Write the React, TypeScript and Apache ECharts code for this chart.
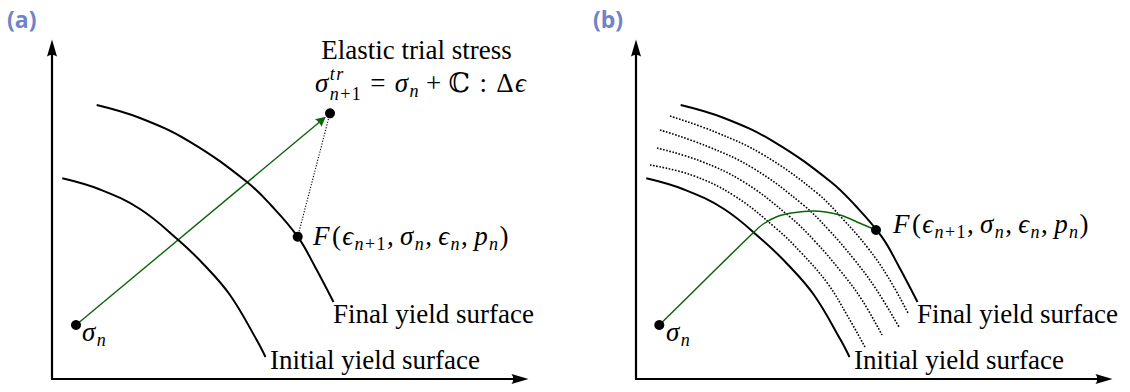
import React, { useEffect, useRef } from "react";
import * as echarts from "echarts";

// Data space: one unit = one pixel, measured from each panel's axis origin.
const X_MAX = 468;
const Y_MAX = 331;

const initialSurface = [[10.3, 200.7], [48, 189.5], [88, 170], [126.3, 139], [152, 114.3], [178, 84], [204.7, 39], [213.5, 22]];
const finalSurface = [[44.7, 274], [88, 261], [138, 237.2], [194.7, 197.3], [220, 172.7], [245.7, 142.3], [263, 112.3], [281.5, 77]];
const intermediate1 = [[14, 214], [56, 203.8], [98, 183.4], [140, 150.7], [165.6, 125.8], [191.5, 95.7], [211, 64], [229, 32]];
const intermediate2 = [[21, 231], [64, 218.1], [108, 196.9], [153.7, 162.3], [179.2, 137.4], [205.1, 107.3], [226, 79], [246, 44]];
const intermediate3 = [[24, 249], [72, 232.4], [118, 210.3], [167.3, 174], [192.8, 149], [218.6, 119], [240, 90], [263, 52]];
const intermediate4 = [[34, 263], [80, 246.7], [128, 223.8], [181, 186], [206.4, 160.5], [231.9, 131], [252, 102], [272, 66]];

const sigmaA = [24, 54];
const trialA = [278, 265.7];
const arrowEndA = [270, 259];
const stateFA = [245.7, 142.3];

const sigmaB = [23.3, 54];
const stateFB = [240, 149];
const returnPathB = [[23.3, 54], [70, 100], [117, 146], [127.3, 155], [140.7, 162.3], [157.3, 166.3], [177.3, 168], [204, 164], [224, 155.7], [240, 149]];

const panelLabels = ["(a)", "(b)"];
const initialLabel = "Initial yield surface";
const finalLabel = "Final yield surface";
const trialLabel = "Elastic trial stress";

const SERIF = "Liberation Serif, DejaVu Serif, serif";
const SANS = "Open Sans, DejaVu Sans, sans-serif";
const M = 27;
const S = 18;
const GREEN = "#0b650b";
const ARROW = "path://M5,0 L10,17 Q5,13.5 0,17 Z";

type P = { t?: string; i?: boolean; s?: number; g?: number; sup?: P[]; sub?: P[] };

function build(ctx: CanvasRenderingContext2D, pieces: P[], x0: number, base: number, out: any[] | null, kern: number): number {
  let x = x0;
  for (const p of pieces) {
    if (p.g) { x += p.g; continue; }
    if (p.sup || p.sub) {
      const both = !!(p.sup && p.sub);
      const e1 = p.sup ? build(ctx, p.sup, x, base - 11.5, out, kern) : x;
      const e2 = p.sub ? build(ctx, p.sub, x, base + (both ? 8 : 5), out, kern) : x;
      x = Math.max(e1, e2);
      continue;
    }
    const size = p.s ?? M;
    ctx.font = `${p.i ? "italic " : ""}${size}px ${SERIF}`;
    const w = ctx.measureText(p.t || "").width;
    if (out) {
      out.push({
        type: "text", x, y: base - 0.3375 * size, silent: true, z: 10,
        style: {
          text: p.t, fontFamily: SERIF, fontSize: size, fontStyle: p.i ? "italic" : "normal", fill: "#000",
          align: "left", verticalAlign: "middle", lineHeight: size < M ? 14 : 22,
        },
      });
    }
    x += w + kern;
  }
  return x;
}

function place(ctx: CanvasRenderingContext2D, pieces: P[], x: number, base: number, out: any[], center = false, kern = 0) {
  let x0 = x;
  if (center) {
    const w = build(ctx, pieces, 0, base, null, kern) - kern;
    x0 = x - w / 2;
  }
  build(ctx, pieces, x0, base, out, kern);
}

const nsub = (): P => ({ sub: [{ t: "n", i: true, s: S }] });
const n1sub = (): P[] => [{ t: "n", i: true, s: S }, { t: "+", s: S }, { t: "1", s: S }];
const fLabel: P[] = [
  { t: "F", i: true }, { g: 1 }, { t: "(" }, { t: "ϵ", i: true }, { sub: n1sub() }, { t: "," }, { g: 5 },
  { t: "σ", i: true }, nsub(), { t: "," }, { g: 5 }, { t: "ϵ", i: true }, nsub(), { t: "," }, { g: 5 },
  { t: "p", i: true }, nsub(), { t: ")" },
];
const trialFormula: P[] = [
  { t: "σ", i: true }, { sup: [{ t: "t", i: true, s: S }, { t: "r", i: true, s: S }], sub: n1sub() },
  { g: 8 }, { t: "=" }, { g: 8 }, { t: "σ", i: true }, nsub(), { g: 6 }, { t: "+" }, { g: 6 }, { t: "ℂ" }, { g: 8 }, { t: ":" }, { g: 8 },
  { t: "Δ" }, { t: "ϵ", i: true },
];
const sigmaLabel: P[] = [{ t: "σ", i: true }, nsub()];

export default function App() {
  const ref = useRef<HTMLDivElement>(null);
  useEffect(() => {
    document.body.style.margin = "0";
    if (!ref.current) return;
    const chart = echarts.init(ref.current, undefined, { renderer: "svg" });
    const ctx = document.createElement("canvas").getContext("2d") as CanvasRenderingContext2D;
    const g: any[] = [];
    const OFF = 584;
    const K = 1.4;
    // panel a
    place(ctx, [{ t: trialLabel }], 416.5, 59, g, true);
    place(ctx, trialFormula, 420.5, 92, g, true, K);
    place(ctx, fLabel, 313, 245, g, false, K);
    place(ctx, [{ t: finalLabel }], 333, 323, g);
    place(ctx, [{ t: initialLabel }], 270, 369, g);
    place(ctx, sigmaLabel, 82, 341.5, g, false, K);
    // panel b
    place(ctx, fLabel, 893, 233, g, false, K);
    place(ctx, [{ t: finalLabel }], 333 + OFF, 323, g);
    place(ctx, [{ t: initialLabel }], 270 + OFF, 369, g);
    place(ctx, sigmaLabel, 82 + OFF, 341.5, g, false, K);
    panelLabels.forEach((lab, k) => {
      g.push({
        type: "text", x: k === 0 ? 7 : 593, y: 19, silent: true,
        style: { text: lab, fontFamily: SANS, fontWeight: "bold", fontSize: 23, fill: "#6f83c7", align: "left", verticalAlign: "middle" },
      });
    });

    const axis = (gridIndex: number, max: number) => ({
      type: "value", gridIndex, min: 0, max,
      axisLine: { show: true, onZero: false, symbol: ["none", ARROW], symbolSize: [11, 17], lineStyle: { color: "#000", width: 2.2 } },
      axisTick: { show: false }, axisLabel: { show: false }, splitLine: { show: false },
    });
    const curve = (idx: number, data: number[][], width: number, type: any = "solid", color = "#000") => ({
      type: "line", xAxisIndex: idx, yAxisIndex: idx, data, smooth: 0.4, showSymbol: false, silent: true,
      lineStyle: { color, width, type, cap: "butt" },
    });
    const dots = (idx: number, data: number[][]) => ({
      type: "scatter", xAxisIndex: idx, yAxisIndex: idx, data, symbolSize: 10, silent: true, z: 5,
      itemStyle: { color: "#000", opacity: 1 },
    });

    chart.setOption({
      animation: false,
      backgroundColor: "#fff",
      grid: [
        { left: 52, top: 48, width: X_MAX, height: Y_MAX },
        { left: 636, top: 48, width: X_MAX, height: Y_MAX },
      ],
      xAxis: [axis(0, X_MAX), axis(1, X_MAX)],
      yAxis: [axis(0, Y_MAX), axis(1, Y_MAX)],
      series: [
        curve(0, initialSurface, 2),
        curve(0, finalSurface, 2),
        {
          type: "line", xAxisIndex: 0, yAxisIndex: 0, data: [stateFA, trialA], showSymbol: false, silent: true,
          lineStyle: { color: "#000", width: 1.1, type: [1.2, 1.6] },
        },
        {
          type: "lines", coordinateSystem: "cartesian2d", xAxisIndex: 0, yAxisIndex: 0, silent: true,
          data: [{ coords: [sigmaA, arrowEndA] }],
          symbol: ["none", ARROW], symbolSize: 10,
          lineStyle: { color: GREEN, width: 1.4, opacity: 1 },
        },
        dots(0, [sigmaA, stateFA, trialA]),
        curve(1, initialSurface, 2),
        curve(1, finalSurface, 2),
        curve(1, intermediate1, 1.6, [1.6, 1.6]),
        curve(1, intermediate2, 1.6, [1.6, 1.6]),
        curve(1, intermediate3, 1.6, [1.6, 1.6]),
        curve(1, intermediate4, 1.6, [1.6, 1.6]),
        { ...curve(1, returnPathB, 1.5, "solid", GREEN), smooth: 0.3 },
        dots(1, [sigmaB, stateFB]),
      ],
      graphic: g,
    });
    return () => chart.dispose();
  }, []);
  return <div ref={ref} style={{ width: 1130, height: 392 }} />;
}
